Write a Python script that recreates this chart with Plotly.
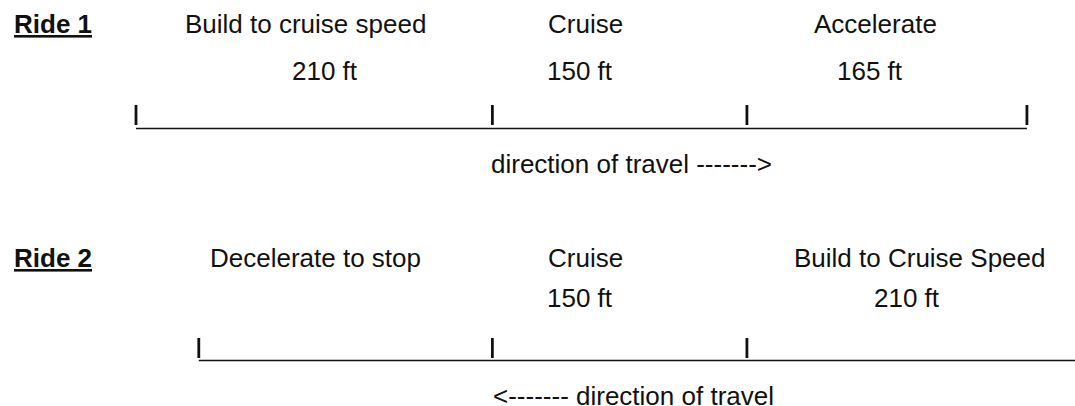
import plotly.graph_objects as go

# ---------------- data ----------------
ride_names = ["Ride 1", "Ride 2"]

ride1_phases = ["Build to cruise speed", "Cruise", "Accelerate"]
ride1_dist_ft = [210, 150, 165]
ride1_dist_labels = ["210 ft", "150 ft", "165 ft"]
ride1_start_ft = 0
ride1_direction = "direction of travel ------->"

ride2_phases = ["Decelerate to stop", "Cruise", "Build to Cruise Speed"]
ride2_dist_ft = [173, 150, 210]          # first segment unlabeled
ride2_dist_labels = ["", "150 ft", "210 ft"]
ride2_start_ft = 37
ride2_direction = "<------- direction of travel"

# ---------------- layout constants ----------------
W, H = 1075, 406
FONT = "Liberation Sans, Arial, Helvetica, sans-serif"
FS = 26

def cum(start, dists):
    out = [start]
    for d in dists:
        out.append(out[-1] + d)
    return out

ride1_bounds = cum(ride1_start_ft, ride1_dist_ft)
ride2_bounds = cum(ride2_start_ft, ride2_dist_ft)

# row geometry (pixel-like y, axis reversed)
rows = [
    dict(bounds=ride1_bounds, ticks=ride1_bounds, line_y=128.5, tick_top=105, tick_bot=125,
         head_y=24, dist_y=71, dir_y=164,
         phases=ride1_phases, dlabels=ride1_dist_labels, direction=ride1_direction,
         head_x=[100, 264.6, 436], dist_x=[111.4, 261.6, 432.5], dir_x=292),
    dict(bounds=ride2_bounds, ticks=ride2_bounds[:3], line_y=360.5, tick_top=338, tick_bot=358,
         head_y=258, dist_y=298, dir_y=396,
         phases=ride2_phases, dlabels=ride2_dist_labels, direction=ride2_direction,
         head_x=[106, 264.6, 461.4], dist_x=[0, 261.6, 454.3], dir_x=293),
]

fig = go.Figure()
annotations = []

for i, r in enumerate(rows):
    # track line
    fig.add_trace(go.Scatter(
        x=[r["bounds"][0], r["bounds"][-1]], y=[r["line_y"], r["line_y"]],
        mode="lines", line=dict(color="#111", width=1.7), hoverinfo="skip", showlegend=False))
    # tick marks
    tx, ty = [], []
    for b in r["ticks"]:
        tx += [b, b, None]
        ty += [r["tick_top"], r["tick_bot"], None]
    fig.add_trace(go.Scatter(x=tx, y=ty, mode="lines",
                             line=dict(color="#111", width=2.8),
                             hoverinfo="skip", showlegend=False))
    # ride name
    annotations.append(dict(text="<b><u>%s</u></b>" % ride_names[i], xref="paper", x=12 / W,
                            xanchor="left", yref="y", y=r["head_y"], yanchor="middle",
                            showarrow=False, font=dict(size=FS, family=FONT, color="#111")))
    for j, ph in enumerate(r["phases"]):
        annotations.append(dict(text=ph, x=r["head_x"][j], y=r["head_y"], xanchor="center",
                                yanchor="middle", showarrow=False,
                                font=dict(size=FS, family=FONT, color="#111")))
        if r["dlabels"][j]:
            annotations.append(dict(text=r["dlabels"][j], x=r["dist_x"][j], y=r["dist_y"],
                                    xanchor="center", yanchor="middle", showarrow=False,
                                    font=dict(size=FS, family=FONT, color="#111")))
    annotations.append(dict(text=r["direction"], x=r["dir_x"], y=r["dir_y"], xanchor="center",
                            yanchor="middle", showarrow=False,
                            font=dict(size=FS, family=FONT, color="#111")))

px_per_ft = 1.697
x0_px = 136
fig.update_layout(
    width=W, height=H,
    margin=dict(l=0, r=0, t=0, b=0),
    paper_bgcolor="white", plot_bgcolor="white",
    xaxis=dict(range=[-x0_px / px_per_ft, (W - x0_px) / px_per_ft], visible=False, fixedrange=True),
    yaxis=dict(range=[H, 0], visible=False, fixedrange=True),
    annotations=annotations,
    showlegend=False,
)

fig.write_html("out.html", config={"displayModeBar": False},
               post_script="document.body.style.margin='0';document.body.style.overflow='hidden';")
